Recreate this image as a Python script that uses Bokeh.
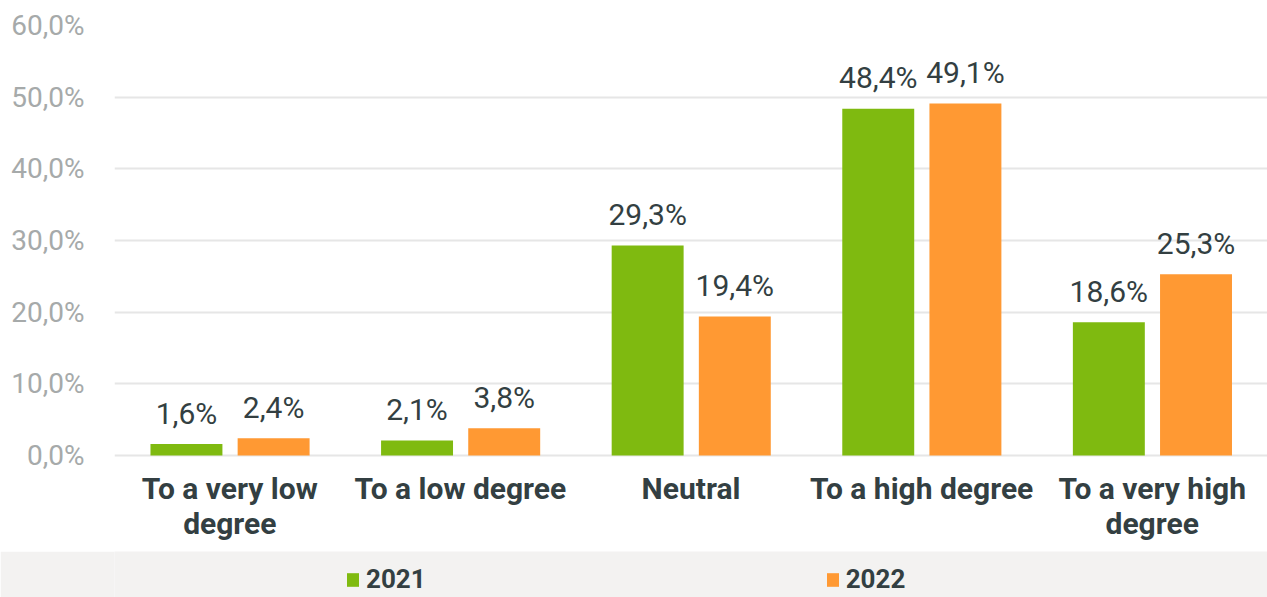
from bokeh.plotting import figure
from bokeh.models import ColumnDataSource, FactorRange, Range1d, Legend, LegendItem, FixedTicker
from bokeh.transform import dodge
from bokeh.layouts import column
from bokeh.embed import file_html
from bokeh.resources import INLINE
from bokeh.core.properties import value

categories = ["To a very low degree", "To a low degree", "Neutral", "To a high degree", "To a very high degree"]
category_labels = ["To a very low\ndegree", "To a low degree", "Neutral", "To a high degree", "To a very high\ndegree"]
series_names = ["2021", "2022"]
values_2021 = [1.6, 2.1, 29.3, 48.4, 18.6]
values_2022 = [2.4, 3.8, 19.4, 49.1, 25.3]
y_ticks = [0, 10, 20, 30, 40, 50, 60]
y_tick_labels = ["0,0%", "10,0%", "20,0%", "30,0%", "40,0%", "50,0%", "60,0%"]

GREEN = "#7FBA10"
ORANGE = "#FF9933"
TEXT = "#333F42"
AXIS_GRAY = "#A6AAAA"
FONT = "Roboto"

def fmt(v):
    return ("%.1f" % v).replace(".", ",") + "%"

src = ColumnDataSource(dict(
    cat=categories,
    lab=category_labels,
    zero=[0] * len(categories),
    v2021=values_2021,
    v2022=values_2022,
    l2021=[fmt(v) for v in values_2021],
    l2022=[fmt(v) for v in values_2022],
))

# frame spans 25..551 px; 0..60 occupies 430 px, the rest is room for the category labels
y_min = -60 * 96 / 430
p = figure(x_range=FactorRange(*categories), y_range=Range1d(y_min, 60),
           width=1267, height=551, output_backend="svg", toolbar_location=None,
           min_border_left=114, min_border_right=0, min_border_top=25, min_border_bottom=0)
p.outline_line_color = None
p.background_fill_color = "white"
p.border_fill_color = "white"
p.xaxis.visible = False

p.vbar(x=dodge("cat", -0.188, range=p.x_range), top="v2021", width=0.312, source=src,
       fill_color=GREEN, line_color=None)
p.vbar(x=dodge("cat", 0.19, range=p.x_range), top="v2022", width=0.312, source=src,
       fill_color=ORANGE, line_color=None)

p.text(x=dodge("cat", -0.188, range=p.x_range), y="v2021", text="l2021", source=src,
       text_align="center", text_baseline="alphabetic", y_offset=-31,
       text_font=value(FONT), text_font_size="30px", text_color=TEXT)
p.text(x=dodge("cat", 0.19, range=p.x_range), y="v2022", text="l2022", source=src,
       text_align="center", text_baseline="alphabetic", y_offset=-31,
       text_font=value(FONT), text_font_size="30px", text_color=TEXT)

# category labels
p.text(x="cat", y="zero", text="lab", source=src, text_align="center", text_baseline="top",
       y_offset=15, text_font=value(FONT), text_font_style="bold", text_font_size="30px",
       text_color=TEXT, text_line_height=1.0)

# y axis
p.yaxis.ticker = FixedTicker(ticks=y_ticks)
p.yaxis.major_label_overrides = {t: l for t, l in zip(y_ticks, y_tick_labels)}
p.yaxis.axis_line_color = None
p.yaxis.major_tick_line_color = None
p.yaxis.minor_tick_line_color = None
p.yaxis.major_label_standoff = 24
p.yaxis.major_label_text_font = FONT
p.yaxis.major_label_text_font_size = "28px"
p.yaxis.major_label_text_color = AXIS_GRAY

p.xgrid.grid_line_color = None
p.ygrid.grid_line_color = "#E6E6E6"
p.ygrid.grid_line_width = 2
p.ygrid.ticker = FixedTicker(ticks=y_ticks)

# legend band
q = figure(width=1267, height=46, output_backend="svg", toolbar_location=None,
           min_border=0, x_range=Range1d(0, 1), y_range=Range1d(0, 1))
q.axis.visible = False
q.grid.visible = False
q.outline_line_color = None
q.background_fill_color = "#F3F2F1"
q.border_fill_color = "#F3F2F1"
g1 = q.vbar(x=[-5], top=[-5], bottom=[-6], width=1, fill_color=GREEN, line_color=None)
g2 = q.vbar(x=[-5], top=[-5], bottom=[-6], width=1, fill_color=ORANGE, line_color=None)
legend = Legend(items=[LegendItem(label=series_names[0], renderers=[g1]),
                       LegendItem(label=series_names[1], renderers=[g2])],
                orientation="horizontal", location=(231, 3), spacing=399,
                glyph_width=15, glyph_height=17, label_standoff=6,
                label_text_font=FONT, label_text_font_style="bold", label_text_font_size="26px",
                label_text_color=TEXT, padding=0, margin=0,
                background_fill_alpha=0, border_line_color=None)
q.add_layout(legend)

layout = column(p, q, spacing=0)
open("out.html", "w").write(file_html(layout, INLINE))
